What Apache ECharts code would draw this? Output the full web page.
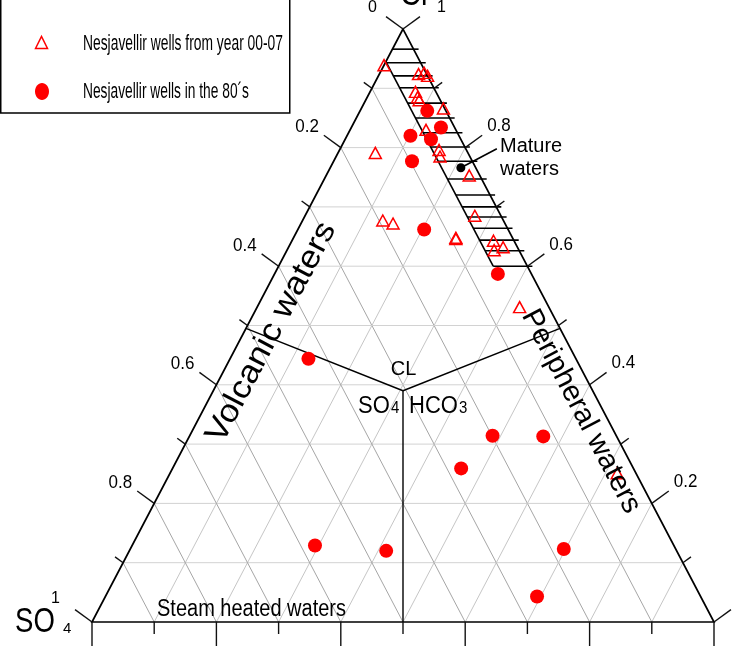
<!DOCTYPE html>
<html><head><meta charset="utf-8">
<script src="https://cdn.jsdelivr.net/npm/echarts@6/dist/echarts.min.js"></script>
<style>html,body{margin:0;padding:0;background:#fff}#c{width:732px;height:646px}</style>
</head><body><div id="c"></div>
<script>
// ---- Data (ternary fractions; SO4 = 1 - Cl - HCO3) ----
const recentName = 'Nesjavellir wells from year 00-07';
const recentCl   = [0.939,0.924,0.926,0.921,0.894,0.885,0.880,0.866,0.830,0.791,0.796,0.785,0.753,0.677,0.672,0.685,0.646,0.648,0.643,0.632,0.627,0.531,0.251];
const recentHCO3 = [0.000,0.063,0.071,0.079,0.073,0.081,0.086,0.132,0.122,0.060,0.160,0.167,0.230,0.129,0.148,0.273,0.262,0.261,0.324,0.345,0.333,0.422,0.719];
const oldName = 'Nesjavellir wells in the 80\u00b4s';
const oldCl   = [0.862,0.834,0.820,0.814,0.777,0.662,0.587,0.444,0.314,0.313,0.259,0.129,0.120,0.123,0.043];
const oldHCO3 = [0.108,0.144,0.102,0.138,0.126,0.203,0.359,0.126,0.487,0.569,0.464,0.294,0.413,0.697,0.694];
const matureCl = [0.766];
const matureHCO3 = [0.210];
const gridSteps = [0.1,0.2,0.3,0.4,0.5,0.6,0.7,0.8,0.9];
const tickValues = [0,0.1,0.2,0.3,0.4,0.5,0.6,0.7,0.8,0.9,1];
const leftLabelValues = [0.2,0.4,0.6,0.8];   // SO4
const rightLabelValues = [0.8,0.6,0.4,0.2];  // Cl
const hatchCl = [0.966,0.943,0.921,0.901,0.875,0.850,0.825,0.801,0.777,0.747,0.720,0.700,0.683,0.664,0.644,0.626,0.600];
const hatchSO4 = 0.055;
const divideCenter = [0.39, 0.305]; // Cl, HCO3
const divideEdgeCl = 0.495;

const FF = "'Liberation Sans', Arial, sans-serif";
const toXY = (cl, h) => [h + cl / 2, cl];

function txt(text, x, y, size, o) {
  o = o || {};
  const align = o.align || 'left', va = o.va || 'middle';
  return {
    type: 'text', x: x, y: y, rotation: o.rot || 0,
    scaleX: o.sx || 1, scaleY: o.sy || 1, silent: true, z: o.z || 10,
    style: { text: text, fontSize: size, fontFamily: FF, fill: o.fill || '#000',
      align: align, textAlign: align, verticalAlign: va, textVerticalAlign: va }
  };
}

function renderFrame(params, api) {
  const P = (cl, h) => api.coord(toXY(cl, h));
  const kids = [];
  const line = (a, b, stroke, w) => kids.push({ type: 'line', silent: true,
    shape: { x1: a[0], y1: a[1], x2: b[0], y2: b[1] }, style: { stroke: stroke, lineWidth: w } });
  // grid
  gridSteps.forEach(v => {
    line(P(v, 0), P(v, 1 - v), '#d2d2d2', 1);
    line(P(0, v), P(1 - v, v), '#c6c6c6', 1);
    line(P(0, 1 - v), P(1 - v, 0), '#a6a6a6', 1);
  });
  // hatch (mature waters)
  hatchCl.forEach(c => {
    const a = P(c, Math.max(0, 1 - c - hatchSO4));
    const b = P(c, 1 - c);
    line(a, [b[0] + 5, b[1]], '#000', 1.6);
  });
  const hTop = 1 - hatchSO4, hBot = hatchCl[hatchCl.length - 1];
  line(P(hTop, 0), P(hBot, 1 - hBot - hatchSO4), '#000', 1.6);
  // dividing lines
  const ctr = P(divideCenter[0], divideCenter[1]);
  line(ctr, P(divideEdgeCl, 0), '#000', 1.4);
  line(ctr, P(divideEdgeCl, 1 - divideEdgeCl), '#000', 1.4);
  line(ctr, P(0, 0.5), '#000', 1.4);
  // frame
  const A = P(1, 0), B = P(0, 0), C = P(0, 1);
  kids.push({ type: 'polygon', silent: true, shape: { points: [A, B, C] },
    style: { fill: 'none', stroke: '#000', lineWidth: 1.7 } });
  // ticks
  const ux = 0.808, uy = -0.589;
  tickValues.forEach(t => {
    const major = Math.round(t * 10) % 2 === 0;
    const d = major ? 21 : 10;
    const l = P(1 - t, 0);
    line(l, [l[0] - ux * d, l[1] + uy * d], '#111', 1.4);
    const r = P(t, 1 - t);
    line(r, [r[0] + ux * d, r[1] + uy * d], '#111', 1.4);
    const b = P(0, t);
    line(b, [b[0], b[1] + (major ? 26 : 12)], '#111', 1.4);
  });
  // tick labels
  leftLabelValues.forEach(s => {
    const p = P(1 - s, 0);
    kids.push(txt(String(s), p[0] - ux * 21 - 5, p[1] + uy * 21 - 8, 17, { align: 'right', sy: 1.08 }));
  });
  rightLabelValues.forEach(c => {
    const p = P(c, 1 - c);
    kids.push(txt(String(c), p[0] + ux * 21 + 5, p[1] + uy * 21 - 9, 17, { align: 'left', sy: 1.08 }));
  });
  // leader from mature-water dot
  const m = P(matureCl[0], matureHCO3[0]);
  line(m, [m[0] + 36, m[1] - 19], '#000', 1.6);
  return { type: 'group', children: kids };
}

const chart = echarts.init(document.getElementById('c'), null, { renderer: 'canvas' });

// legend text scaling (narrow font look)
const cv = document.createElement('canvas').getContext('2d');
cv.font = "22px 'Liberation Sans'";
const s1 = 200 / cv.measureText(recentName).width;
const s2 = 166 / cv.measureText(oldName).width;

chart.setOption({
  animation: false,
  backgroundColor: '#fff',
  grid: { left: 92, top: 29, width: 622, height: 593, show: false },
  xAxis: { type: 'value', min: 0, max: 1, show: false },
  yAxis: { type: 'value', min: 0, max: 1, show: false },
  series: [
    { type: 'custom', name: 'frame', coordinateSystem: 'cartesian2d', clip: false, silent: true, z: 1,
      data: [[0, 0]], renderItem: renderFrame },
    { type: 'scatter', name: recentName, z: 4, symbol: 'triangle', symbolSize: [12, 11],
      itemStyle: { color: 'rgba(0,0,0,0)', borderColor: '#ff0000', borderWidth: 1.5, opacity: 1 },
      data: recentCl.map((c, i) => toXY(c, recentHCO3[i])) },
    { type: 'scatter', name: oldName, z: 5, symbol: 'circle', symbolSize: 14,
      itemStyle: { color: '#ff0000', opacity: 1 },
      data: oldCl.map((c, i) => toXY(c, oldHCO3[i])) },
    { type: 'scatter', name: 'Mature waters', z: 6, symbol: 'circle', symbolSize: 9,
      itemStyle: { color: '#000', opacity: 1 },
      data: matureCl.map((c, i) => toXY(c, matureHCO3[i])) }
  ],
  graphic: [
    { type: 'rect', z: 20, silent: true, shape: { x: 0.75, y: -2, width: 289, height: 115 },
      style: { fill: '#fff', stroke: '#000', lineWidth: 1.5 } },
    { type: 'polygon', z: 21, silent: true, shape: { points: [[35.5, 48.5], [41.5, 36.5], [47.5, 48.5]] },
      style: { fill: 'none', stroke: '#ff0000', lineWidth: 1.5 } },
    { type: 'ellipse', z: 21, silent: true, shape: { cx: 42, cy: 91.5, rx: 7, ry: 8.5 },
      style: { fill: '#ff0000' } },
    txt(recentName, 83, 44, 22, { sx: s1, z: 21 }),
    txt(oldName, 83, 91.5, 22, { sx: s2, z: 21 }),
    // vertex labels
    txt('Cl', 400, -4.5, 29, { sy: 1.2 }),
    txt('0', 368, 8, 16),
    txt('1', 437, 8, 16),
    txt('SO', 15, 622.5, 29, { sx: 0.95, sy: 1.2 }),
    txt('4', 63, 629, 15),
    txt('1', 55.5, 599, 16, { align: 'center' }),
    // field labels
    txt('Volcanic waters', 271.5, 332.5, 32, { align: 'center', rot: 62.3 * Math.PI / 180, sx: 1.1 }),
    txt('Peripheral waters', 581, 411.5, 29, { align: 'center', rot: -62.3 * Math.PI / 180 }),
    txt('Steam heated waters', 157, 610, 20, { sy: 1.15 }),
    txt('Mature', 500, 146, 20, { sy: 1.05 }),
    txt('waters', 500, 169.5, 20, { sy: 1.05 }),
    txt('CL', 403.5, 369.5, 20, { align: 'center', sy: 1.05 }),
    txt('SO', 358, 406, 22, { sy: 1.1 }),
    txt('4', 391, 408.5, 15, { sy: 1.1 }),
    txt('HCO', 409, 406, 22, { sy: 1.1 }),
    txt('3', 459, 408.5, 15, { sy: 1.1 })
  ]
});
</script>
</body></html>
